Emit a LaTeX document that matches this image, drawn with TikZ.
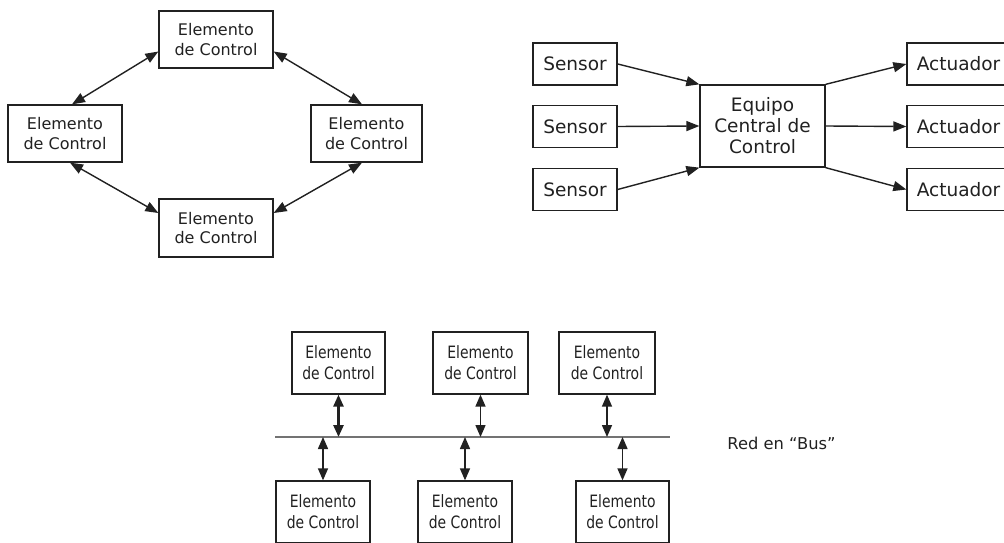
\documentclass[tikz,border=0pt]{standalone}
\usepackage{fontspec}
\setmainfont{DejaVu Sans}
\newfontfamily\narrowfont{DejaVu Sans}[FakeStretch=0.82]
\usetikzlibrary{arrows.meta}
\definecolor{ink}{rgb}{0.13,0.13,0.13}
\definecolor{busgray}{rgb}{0.45,0.45,0.45}
\tikzset{
  bigtip/.tip={Triangle[length=13pt,width=10pt]},
  bustip/.tip={Triangle[length=12pt,width=10pt]}
}
\begin{document}
\begin{tikzpicture}[x=1pt,y=-1pt,
  box/.style={draw=ink,line width=1.3pt,text=ink,align=center,inner sep=0pt,
    font=\fontsize{16}{19.5}\selectfont},
  ctlbox/.style={box,font=\fontsize{18.5}{21}\selectfont},
  busbox/.style={box,font=\narrowfont\fontsize{17}{21}\selectfont},
  link/.style={draw=ink,line width=1.4pt,bigtip-bigtip},
  feed/.style={draw=ink,line width=1.4pt,-bigtip},
  tap/.style={draw=ink,line width=1.5pt,bustip-bustip}]
\useasboundingbox[fill=white] (0,0) rectangle (1004,543);

% ring of control elements
\node[box,minimum width=114pt,minimum height=57pt] (T) at (216,39.5) {Elemento\\de Control};
\node[box,minimum width=114pt,minimum height=57pt] (L) at (65,133.5) {Elemento\\de Control};
\node[box,minimum width=111pt,minimum height=57pt] (R) at (366.5,133.5) {Elemento\\de Control};
\node[box,minimum width=114pt,minimum height=58pt] (B) at (216,228) {Elemento\\de Control};
\draw[link] ([yshift=-12pt]T.west) -- ([xshift=7pt]L.north);
\draw[link] ([yshift=-12pt]T.east) -- ([xshift=-4.5pt]R.north);
\draw[link] ([xshift=5pt]L.south) -- ([yshift=15pt]B.west);
\draw[link] ([xshift=-4.5pt]R.south) -- ([yshift=15pt]B.east);

% centralised control
\node[ctlbox,minimum width=84pt,minimum height=42pt] (S1) at (575,64) {Sensor};
\node[ctlbox,minimum width=84pt,minimum height=42pt] (S2) at (575,126.5) {Sensor};
\node[ctlbox,minimum width=84pt,minimum height=42pt] (S3) at (575,189.5) {Sensor};
\node[ctlbox,minimum width=125pt,minimum height=82pt] (E) at (762.5,126) {Equipo\\Central de\\Control};
\node[ctlbox,minimum width=103pt,minimum height=42pt] (A1) at (958.5,64) {Actuador};
\node[ctlbox,minimum width=103pt,minimum height=42pt] (A2) at (958.5,126.5) {Actuador};
\node[ctlbox,minimum width=103pt,minimum height=42pt] (A3) at (958.5,189.5) {Actuador};
\draw[feed] (S1.east) -- (E.north west);
\draw[feed] (S2.east) -- (E.west);
\draw[feed] (S3.east) -- (E.south west);
\draw[feed] (E.north east) -- (A1.west);
\draw[feed] (E.east) -- (A2.west);
\draw[feed] (E.south east) -- (A3.west);

% bus network
\coordinate (busL) at (275,437);
\coordinate (busR) at (670,437);
\draw[busgray,line width=2pt] (busL) -- (busR);
\node[busbox,minimum width=93pt,minimum height=62pt] (TB1) at (338.5,363) {Elemento\\de Control};
\node[busbox,minimum width=95pt,minimum height=62pt] (TB2) at (480.5,363) {Elemento\\de Control};
\node[busbox,minimum width=96pt,minimum height=62pt] (TB3) at (607,363) {Elemento\\de Control};
\node[busbox,minimum width=94pt,minimum height=62pt] (BB1) at (323,512) {Elemento\\de Control};
\node[busbox,minimum width=94pt,minimum height=62pt] (BB2) at (465,512) {Elemento\\de Control};
\node[busbox,minimum width=93pt,minimum height=62pt] (BB3) at (622.5,512) {Elemento\\de Control};
\draw[tap,line width=2.6pt] (TB1.south) -- (TB1.south |- busL);
\draw[tap] (TB2.south) -- (TB2.south |- busL);
\draw[tap] (TB3.south) -- (TB3.south |- busL);
\draw[tap] (BB1.north |- busL) -- (BB1.north);
\draw[tap] (BB2.north |- busL) -- (BB2.north);
\draw[tap] (BB3.north |- busL) -- (BB3.north);
\node[text=ink,inner sep=0pt,font=\fontsize{16.3}{20}\selectfont] (lbl) at (781.5,443) {Red en “Bus”};
\end{tikzpicture}
\end{document}
